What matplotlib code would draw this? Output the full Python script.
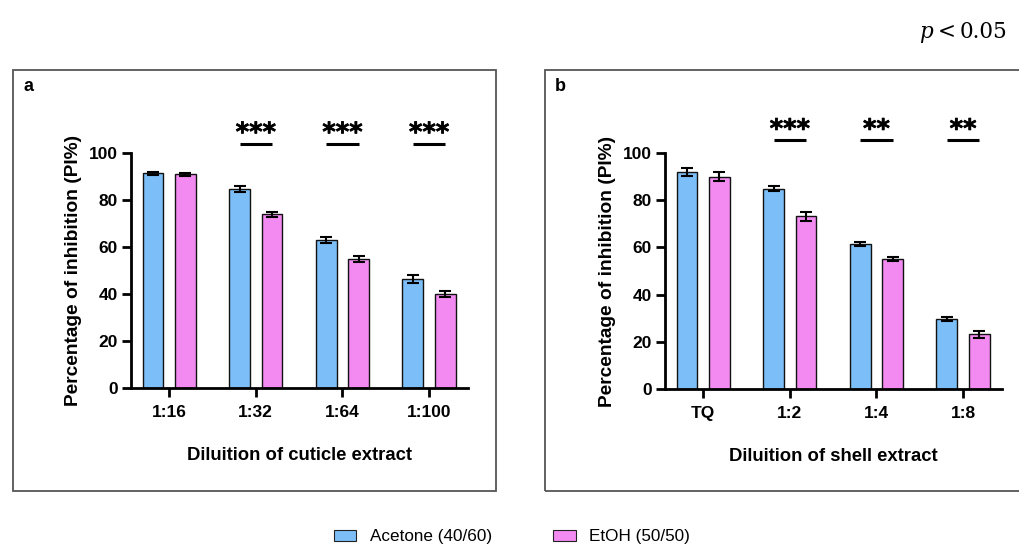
import matplotlib
matplotlib.use("Agg")
import matplotlib.pyplot as plt
import matplotlib.patheffects as pe
import numpy as np
from matplotlib.patches import Rectangle, Patch

plt.rcParams['font.family'] = ['Liberation Sans', 'DejaVu Sans']

# ---- data ----
cats_a = ["1:16", "1:32", "1:64", "1:100"]
acetone_a = [91.3, 84.7, 63.0, 46.4]
acetone_a_err = [0.5, 1.4, 1.2, 1.7]
etoh_a = [90.9, 73.9, 54.9, 40.1]
etoh_a_err = [0.5, 1.1, 1.1, 1.3]
sig_a = ["", "***", "***", "***"]

cats_b = ["TQ", "1:2", "1:4", "1:8"]
acetone_b = [91.8, 84.9, 61.6, 29.7]
acetone_b_err = [1.7, 1.0, 0.8, 0.9]
etoh_b = [90.0, 73.2, 55.0, 23.1]
etoh_b_err = [1.8, 1.9, 0.9, 1.4]
sig_b = ["", "***", "**", "**"]

series_names = ["Acetone (40/60)", "EtOH (50/50)"]
colors = ["#7CBEF7", "#F28AF1"]

fig = plt.figure(figsize=(10.19, 5.48), dpi=100)
W, H = 1019, 548

def fx(px):
    return px / W

def fy(py):
    return 1 - py / H

# panel frames
for (x0, x1) in [(13, 496), (545, 1030)]:
    fig.patches.append(Rectangle((fx(x0), fy(491)), fx(x1 - x0), (491 - 70) / H,
                                 transform=fig.transFigure, fill=False,
                                 edgecolor="#555555", lw=1.3))

def panel(rect, cats, a, ae, e, ee, sig, xlabel, letter, letter_xy, line_y, star_y):
    ax = fig.add_axes(rect)
    x = np.arange(len(cats))
    w = 0.24
    off = 0.187
    ax.bar(x - off, a, w, color=colors[0], edgecolor="#111111", lw=1.0, zorder=2)
    ax.bar(x + off, e, w, color=colors[1], edgecolor="#111111", lw=1.0, zorder=2)
    ax.errorbar(x - off, a, yerr=ae, fmt="none", ecolor="black", elinewidth=1.5,
                capsize=4.3, capthick=1.5, zorder=3)
    ax.errorbar(x + off, e, yerr=ee, fmt="none", ecolor="black", elinewidth=1.5,
                capsize=4.3, capthick=1.5, zorder=3)
    ax.set_xlim(-0.44, len(cats) - 0.55)
    ax.set_ylim(0, 100)
    ax.set_yticks([0, 20, 40, 60, 80, 100])
    ax.set_xticks(x)
    ax.set_xticklabels(cats)
    for s in ["top", "right"]:
        ax.spines[s].set_visible(False)
    for s in ["left", "bottom"]:
        ax.spines[s].set_linewidth(2)
    ax.tick_params(axis="both", width=2, length=6.5, labelsize=12.5)
    ax.tick_params(axis="x", pad=6)
    ax.tick_params(axis="y", pad=3)
    for lab in ax.get_xticklabels() + ax.get_yticklabels():
        lab.set_fontweight("bold")
    ax.set_xlabel(xlabel, fontsize=13.3, fontweight="bold", labelpad=19)
    ax.set_ylabel("Percentage of inhibition (PI%)", fontsize=13.8, fontweight="bold", labelpad=5)
    for i, s in enumerate(sig):
        if s:
            ax.plot([x[i] - off, x[i] + off], [line_y, line_y], color="black", lw=2.2,
                    clip_on=False, solid_capstyle="butt")
            ax.text(x[i], star_y, s, ha="center", va="center", fontsize=18.5,
                    family="DejaVu Sans", fontweight="bold", clip_on=False,
                    path_effects=[pe.withStroke(linewidth=0.5, foreground="black")])
    fig.text(fx(letter_xy[0]), fy(letter_xy[1]), letter, fontsize=13, fontweight="bold",
             ha="left", va="center")
    return ax

panel([fx(131), fy(388), fx(468 - 131), (388 - 153) / H], cats_a, acetone_a, acetone_a_err,
      etoh_a, etoh_a_err, sig_a, "Diluition of cuticle extract", "a", (23, 87), 103.8, 108.3)
panel([fx(665), fy(389), fx(1002 - 665), (389 - 153) / H], cats_b, acetone_b, acetone_b_err,
      etoh_b, etoh_b_err, sig_b, "Diluition of shell extract", "b", (555, 87), 105.4, 109.7)

handles = [Patch(facecolor=colors[0], edgecolor="#222222", lw=0.8),
           Patch(facecolor=colors[1], edgecolor="#222222", lw=0.8)]
fig.legend(handles, series_names, loc="center", bbox_to_anchor=(fx(512), fy(537)),
           ncol=2, frameon=False, fontsize=12.3, handlelength=1.3, handleheight=0.6,
           columnspacing=3.6, handletextpad=0.8)

fig.text(fx(919), fy(38), "p", family="DejaVu Serif", style="italic", fontsize=15.5,
         ha="left", va="baseline")
fig.text(fx(938), fy(38), "<", family="DejaVu Serif", fontsize=15.5,
         ha="left", va="baseline")
fig.text(fx(1007), fy(38), "0.05", family="DejaVu Serif", fontsize=15.5,
         ha="right", va="baseline")

fig.savefig("out.png", dpi=100)
